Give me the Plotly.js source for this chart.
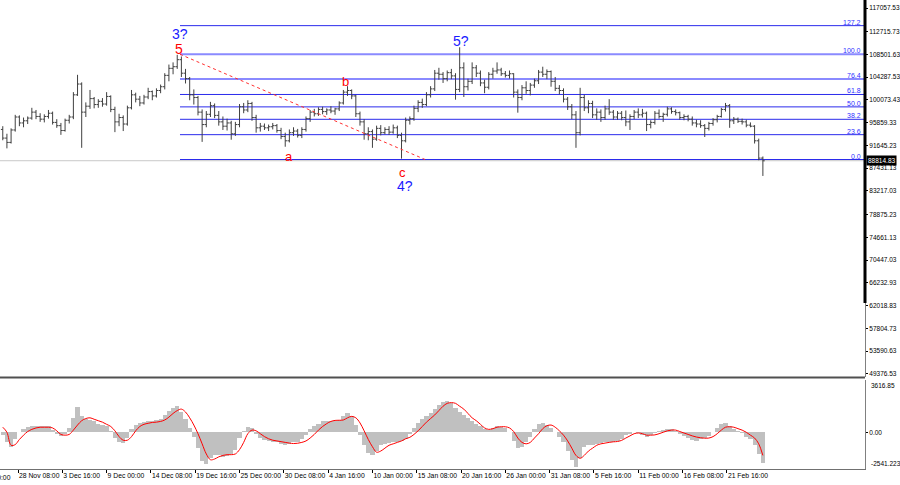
<!DOCTYPE html>
<html><head><meta charset="utf-8">
<script src="https://cdn.plot.ly/plotly-3.0.1.min.js"></script>
<style>html,body{margin:0;padding:0;background:#fff;}#chart{width:900px;height:485px;}</style>
</head><body><div id="chart"></div>
<script>
// 12-hour bars starting 26 Nov 2024 12:00
const barStartUTC = Date.UTC(2024, 10, 26, 12);
const barHours = 12;

const open = [
94600,93000,92200,94500,96900,95800,96200,96700,97800,97000,
96500,97000,97600,95900,95300,94400,96300,96900,101000,103000,
97800,98900,100300,99200,99800,99300,100700,98300,96000,96800,
95600,98600,101000,100200,99500,100600,101600,100800,101800,102500,
104600,105900,106200,107500,105000,104000,101000,100500,97800,95500,
97400,99000,97200,96000,95200,95800,93800,95500,98800,98200,
99400,96800,94900,95200,94900,95100,95300,94400,93300,92500,
94000,94300,93500,94600,96600,97800,97500,98300,97900,98200,
98000,98400,99500,101500,101800,100800,97500,96000,93800,94200,
92800,94800,94000,94600,94100,94900,93500,92500,96300,96600,
98500,99600,99200,101000,102100,105000,104800,104000,105100,104500,
102000,106000,102500,103500,106000,105000,103200,102400,104800,105400,
105600,104900,104600,104900,101500,100500,102300,101800,102800,103600,
105200,104800,105300,103500,102200,101800,100200,98800,97300,94000,
100500,98600,99400,97300,97800,96800,98400,97800,96900,97600,
96800,96000,97000,97800,97300,97600,95500,95900,97600,97000,
97400,98400,97900,97700,96800,97000,96500,95800,95600,95300,
94800,95700,96400,97000,98300,99000,96200,96500,96100,96000,
95400,95200,92500,89300];
const high = [
95200,93800,94800,97300,97200,96800,97000,98600,98200,97600,
97400,98200,97900,96500,95800,96600,97300,101500,104700,103300,
99600,101900,100600,100200,100400,101500,100900,98800,97500,97200,
99000,101900,101400,100800,101000,102300,101800,102200,102900,105000,
106600,107000,108400,108100,105800,104300,102000,100800,98300,98000,
99700,99400,98000,97000,96600,96200,96000,99300,99500,100000,
99700,97300,95800,95700,95500,95800,95600,94900,94000,94600,
95000,94700,95000,97000,98200,98400,98700,98800,98500,98900,
98600,99800,101900,102600,102000,101000,97900,96500,95000,94600,
95300,95400,95000,95200,95500,95300,94000,96800,97000,99000,
100000,100300,101500,102600,105600,106000,105200,105500,105800,105000,
109800,107000,104000,107000,106500,105500,103800,105200,106000,107000,
106000,105400,105500,105000,102000,102800,103500,103200,104000,105600,
106200,105700,105500,104300,102800,102200,100600,99300,98000,102300,
101000,100000,99900,98500,98300,99000,100200,98200,98000,98000,
98100,97400,98200,98500,98400,97900,96300,98000,98300,97700,
98800,98700,98300,97900,97400,97300,97000,96400,96300,95600,
96000,96700,97300,98600,99500,99300,96900,96800,96600,96400,
95900,95400,92900,89600];
const low = [
92600,91100,92000,94200,95200,95000,95600,96400,96500,96000,
95900,96600,95500,94900,93600,94200,95700,96500,100800,91200,
96900,98400,98500,98600,98800,99000,97800,94100,95200,94300,
95300,98300,99600,98900,99200,100200,100000,100500,101300,102000,
103500,104800,105800,104300,103100,100000,99200,97200,92300,95000,
96900,96700,95300,94500,94400,92700,93400,95000,97600,97800,
96200,94000,94200,94500,94300,94600,94000,92800,91400,92200,
93400,93100,93000,94200,96000,97000,97100,97400,97300,97600,
97300,98000,99200,100800,100200,96900,95300,92700,92600,91200,
92500,93500,93700,93600,93800,93000,89200,92200,95500,96200,
97800,98600,98900,100500,101700,103800,103200,103500,103900,100100,
101500,100600,101800,103000,104300,102600,101300,102000,104000,104900,
104500,104200,104000,100500,97700,100000,101200,100900,102300,103000,
104300,103900,102500,101700,101100,99600,98200,96500,91200,93500,
98000,97600,96700,96400,96000,96400,97300,96400,96400,96300,
95200,94500,96500,96700,96800,94300,94800,95500,96600,96000,
97000,97500,97200,96400,96300,96100,95300,95000,94900,93200,
94400,95300,95900,96800,97900,94900,95600,95800,95500,95000,
95000,92000,88900,86000];
const close = [
93000,92200,94500,96900,95800,96200,96700,97800,97000,96500,
97000,97600,95900,95300,94400,96300,96900,101000,103000,97800,
98900,100300,99200,99800,99300,100700,98300,96000,96800,95600,
98600,101000,100200,99500,100600,101600,100800,101800,102500,104600,
105900,106200,107500,105000,104000,101000,100500,97800,95500,97400,
99000,97200,96000,95200,95800,93800,95500,98800,98200,99400,
96800,94900,95200,94900,95100,95300,94400,93300,92500,94000,
94300,93500,94600,96600,97800,97500,98300,97900,98200,98000,
98400,99500,101500,101800,100800,97500,96000,93800,94200,92800,
94800,94000,94600,94100,94900,93500,92500,96300,96600,98500,
99600,99200,101000,102100,105000,104800,104000,105100,104500,102000,
106000,102500,103500,106000,105000,103200,102400,104800,105400,105600,
104900,104600,104900,101500,100500,102300,101800,102800,103600,105200,
104800,105300,103500,102200,101800,100200,98800,97300,94000,100500,
98600,99400,97300,97800,96800,98400,97800,96900,97600,96800,
96000,97000,97800,97300,97600,95500,95900,97600,97000,97400,
98400,97900,97700,96800,97000,96500,95800,95600,95300,94800,
95700,96400,97000,98300,99000,96200,96500,96100,96000,95400,
95200,92500,89300,88800];

const macdHist = [
-200,-700,-1000,-500,0,200,350,400,450,450,
400,400,150,-100,-250,-100,300,1000,1750,1100,
900,850,750,600,500,450,100,-400,-650,-750,
-400,200,500,650,700,750,750,850,950,1200,
1500,1700,1800,1400,900,300,-300,-1100,-2000,-2200,
-1800,-1600,-1600,-1700,-1650,-1500,-1200,-400,100,350,
300,-100,-400,-550,-600,-650,-700,-800,-900,-800,
-700,-650,-500,-200,200,450,600,750,800,800,
800,850,1150,1350,1100,500,-200,-900,-1400,-1600,
-1300,-900,-800,-750,-700,-650,-600,-450,-100,300,
650,900,1100,1300,1600,1900,2100,2150,2000,1700,
1400,1200,1000,800,600,400,200,150,300,400,
350,300,0,-600,-1100,-1000,-700,-300,200,600,
650,500,300,0,-300,-700,-1300,-1900,-2400,-1800,
-1000,-900,-900,-800,-750,-700,-650,-650,-600,-450,
-200,-100,0,-50,-200,-300,-200,-50,100,150,
200,200,100,-100,-250,-400,-550,-600,-500,-400,
-250,0,300,550,650,450,250,100,-50,-300,
-500,-900,-1500,-2100];
const macdSignal = [
350,0,-900,-850,-500,-200,50,200,300,350,
350,350,300,100,-150,-200,-150,150,500,800,
950,1000,900,800,700,550,400,100,-300,-550,
-550,-300,100,400,550,620,680,700,750,850,
1050,1300,1500,1600,1400,1000,500,-100,-800,-1500,
-1900,-1850,-1700,-1600,-1550,-1550,-1500,-1200,-700,-100,
150,100,-100,-300,-450,-550,-600,-650,-700,-750,
-780,-760,-700,-600,-400,-150,150,400,600,750,
820,830,850,1000,1100,1000,650,100,-500,-1000,
-1380,-1300,-1100,-900,-800,-700,-600,-450,-350,-150,
100,400,700,950,1200,1500,1800,2000,2050,2000,
1800,1600,1300,1000,800,550,300,200,250,350,
380,380,300,50,-400,-700,-800,-700,-400,-100,
250,450,500,350,100,-200,-600,-1100,-1600,-1800,
-1600,-1300,-1100,-900,-800,-750,-700,-660,-640,-560,
-400,-250,-100,-50,-100,-200,-200,-180,-100,0,
100,150,150,50,-50,-150,-250,-330,-380,-410,
-400,-300,-100,150,350,380,350,250,150,0,
-200,-400,-800,-1600];

const priceTicks = [117057.53,112715.73,108501.63,104287.53,100073.43,95859.33,91645.23,87431.13,83217.03,78875.23,74661.13,70447.03,66232.93,62018.83,57804.73,53590.63,49376.53];
const priceTickText = ['117057.53','112715.73','108501.63','104287.53','100073.43','95859.33','91645.23','87431.13','83217.03','78875.23','74661.13','70447.03','66232.93','62018.83','57804.73','53590.63','49376.53'];
const dateTicks = ['2024-11-28 08:00','2024-12-03 16:00','2024-12-09 00:00','2024-12-14 08:00','2024-12-19 16:00','2024-12-25 00:00','2024-12-30 08:00','2025-01-04 16:00','2025-01-10 00:00','2025-01-15 08:00','2025-01-20 16:00','2025-01-26 00:00','2025-01-31 08:00','2025-02-05 16:00','2025-02-11 00:00','2025-02-16 08:00','2025-02-21 16:00'];
const dateTickText = ['28 Nov 08:00','3 Dec 16:00','9 Dec 00:00','14 Dec 08:00','19 Dec 16:00','25 Dec 00:00','30 Dec 08:00','4 Jan 16:00','10 Jan 00:00','15 Jan 08:00','20 Jan 16:00','26 Jan 00:00','31 Jan 08:00','5 Feb 16:00','11 Feb 00:00','16 Feb 08:00','21 Feb 16:00'];

const fibLevels = [0, 23.6, 38.2, 50, 61.8, 76.4, 100, 127.2];
const fibLow = 89040, fibHigh = 108500;
const fibStartTime = '2024-12-17 20:00';
const trendEndTime = '2025-01-16 08:00';
const bidPrice = 88814.83;
const macdMax = 3616.85, macdMin = -2541.223;

const waveText  = ['3?', '5', 'a', 'b', 'c', '4?', '5?'];
const waveTime  = ['2024-12-17 20:00','2024-12-17 18:00','2024-12-30 23:00','2025-01-06 19:00','2025-01-13 16:00','2025-01-13 22:00','2025-01-20 16:00'];
const wavePrice = [112250, 109550, 89505, 103558, 86730, 84150, 110955];
const waveColor = ['#1a1aff','#ff0000','#ff0000','#ff0000','#ff0000','#1a1aff','#1a1aff'];

const xStart = '2024-11-26 04:00', xEnd = '2025-03-10 07:00';
const FONT = 'Liberation Sans, Arial, sans-serif';

const times = open.map((_, i) => new Date(barStartUTC + i * barHours * 3600e3).toISOString().slice(0, 19).replace('T', ' '));

const traces = [
  {type:'ohlc', x:times, open:open, high:high, low:low, close:close, xaxis:'x', yaxis:'y',
   increasing:{line:{color:'#404040', width:1}}, decreasing:{line:{color:'#404040', width:1}},
   tickwidth:0.45, hoverinfo:'skip', showlegend:false},
  {type:'bar', x:times, y:macdHist, xaxis:'x', yaxis:'y2', marker:{color:'#c0c0c0', line:{width:0}}, hoverinfo:'skip', showlegend:false},
  {type:'scatter', mode:'lines', x:times, y:macdSignal, xaxis:'x', yaxis:'y2', line:{color:'#ff0000', width:1, shape:'spline'}, hoverinfo:'skip', showlegend:false}
];

const fibPrice = l => fibLow + (fibHigh - fibLow) * l / 100;
const shapes = [
  {type:'line', xref:'paper', x0:0, x1:1, yref:'y', y0:bidPrice, y1:bidPrice, line:{color:'#c8c8c8', width:1}, layer:'below'}
];
fibLevels.forEach(l => {
  const thick = (l === 100 || l === 76.4);
  shapes.push({type:'line', xref:'x', x0:fibStartTime, x1:xEnd, yref:'y', y0:fibPrice(l), y1:fibPrice(l),
    line:{color: thick ? '#8a8aff' : '#2b2bec', width: thick ? 2 : 1}, layer:'below'});
});
shapes.push({type:'line', xref:'x', x0:fibStartTime, x1:trendEndTime, yref:'y', y0:fibHigh, y1:fibLow, line:{color:'#ff3030', width:1, dash:'3px,3px'}});
shapes.push({type:'line', xref:'paper', x0:0, x1:1, yref:'paper', y0:0.1951, y1:0.1951, line:{color:'#505050', width:2}});
shapes.push({type:'line', xref:'paper', x0:1, x1:1, yref:'paper', y0:0.354, y1:1, line:{color:'#000', width:3}});

const annotations = [];
fibLevels.forEach(l => {
  annotations.push({xref:'x', x:xEnd, xanchor:'right', xshift:-2, yref:'y', y:fibPrice(l), yanchor:'bottom', yshift:-2,
    text:l.toFixed(1), showarrow:false, font:{family:FONT, size:7, color:'#3030ff'}});
});
waveText.forEach((t, i) => {
  annotations.push({xref:'x', x:waveTime[i], yref:'y', y:wavePrice[i], xanchor:'center', yanchor:'middle', text:t, showarrow:false,
    font:{family:FONT, size:(t.length > 1 || t === '5') ? 14 : 13, color:waveColor[i]}});
});
annotations.push({xref:'paper', x:1, xanchor:'left', xshift:1, yref:'y', y:bidPrice, yanchor:'middle', text:'88814.83', showarrow:false,
  bgcolor:'#000', borderpad:1, font:{family:FONT, size:6.5, color:'#fff'}});
annotations.push({xref:'paper', x:1, xanchor:'left', xshift:4, yref:'y2', y:macdMax, yanchor:'top', text:'3616.85', showarrow:false,
  font:{family:FONT, size:6.5, color:'#000'}});
annotations.push({xref:'paper', x:1, xanchor:'left', xshift:4, yref:'y2', y:macdMin, yanchor:'bottom', text:'-2541.223', showarrow:false,
  font:{family:FONT, size:6.5, color:'#000'}});
annotations.push({xref:'paper', x:0.015, xanchor:'right', yref:'paper', y:0, yanchor:'top', yshift:-3, text:'23 Nov 00:00', showarrow:false,
  font:{family:FONT, size:6.8, color:'#000'}});

const layout = {
  width:900, height:485,
  margin:{l:0, r:35, t:0, b:16, pad:0},
  paper_bgcolor:'#ffffff', plot_bgcolor:'#ffffff',
  showlegend:false, bargap:0,
  font:{family:FONT, size:7, color:'#000'},
  xaxis:{type:'date', range:[xStart, xEnd], anchor:'y2', showgrid:false, zeroline:false, showline:true, linecolor:'#707070', linewidth:1,
    ticks:'outside', ticklen:3, tickcolor:'#000', tickvals:dateTicks, ticktext:dateTickText, ticklabelposition:'outside right',
    tickangle:0, tickfont:{size:6.8}, rangeslider:{visible:false}, fixedrange:true, automargin:false},
  yaxis:{domain:[0.1962, 1], range:[48822, 118537], side:'right', showgrid:false, zeroline:false, showline:true, linecolor:'#808080', linewidth:1,
    ticks:'outside', ticklen:2, tickcolor:'#000', tickvals:priceTicks, ticktext:priceTickText, tickfont:{size:6.5}, automargin:false, fixedrange:true},
  yaxis2:{domain:[0, 0.1898], range:[macdMin, macdMax], side:'right', showgrid:false, zeroline:false, showline:true, linecolor:'#808080', linewidth:1,
    ticks:'outside', ticklen:2, tickcolor:'#000', tickvals:[0], ticktext:['0.00'], tickfont:{size:6.5}, automargin:false, fixedrange:true},
  shapes:shapes, annotations:annotations
};

Plotly.newPlot('chart', traces, layout, {staticPlot:true, displayModeBar:false});
</script>
</body></html>
